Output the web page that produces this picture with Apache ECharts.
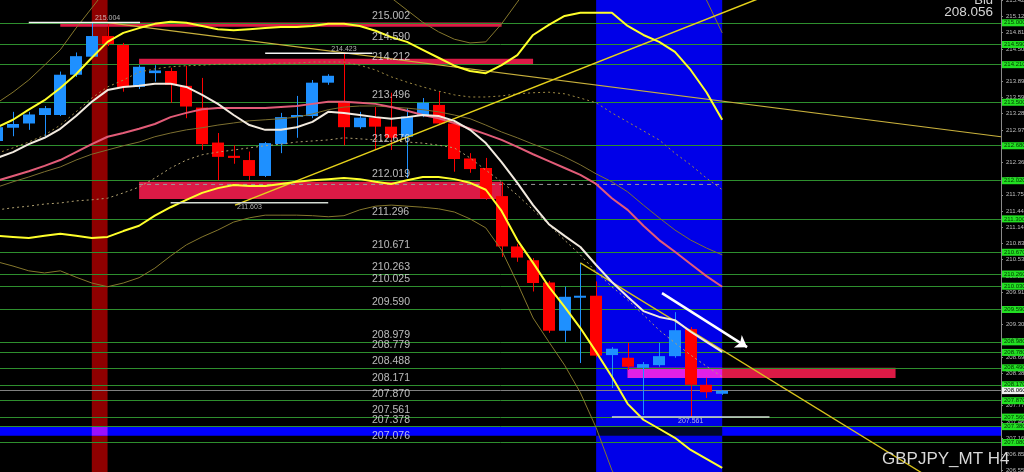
<!DOCTYPE html>
<html><head><meta charset="utf-8">
<script src="https://cdn.jsdelivr.net/npm/echarts@6/dist/echarts.min.js"></script>
<style>html,body{margin:0;padding:0;background:#000;}#c{width:1024px;height:472px;}</style>
</head><body><div id="c"></div>
<script>
// ---------- DATA ----------
const opens  = [212.77,213.02,213.10,213.26,213.26,214.02,214.36,214.75,214.58,213.79,214.05,214.09,213.81,213.40,212.74,212.49,212.41,212.11,212.71,213.23,213.24,213.87,213.52,213.03,213.21,213.04,212.85,213.26,213.45,213.10,212.44,212.26,211.73,210.78,210.52,210.10,209.19,209.82,209.85,208.73,208.68,208.49,208.54,208.71,209.22,208.17,208.00];
const closes = [213.03,213.09,213.27,213.39,214.02,214.37,214.75,214.60,213.79,214.17,214.10,213.83,213.42,212.71,212.47,212.45,212.11,212.73,213.22,213.26,213.87,214.00,213.03,213.21,213.04,212.83,213.23,213.49,213.10,212.43,212.24,211.69,210.78,210.57,210.09,209.19,209.83,209.85,208.72,208.85,208.51,208.56,208.71,209.20,208.17,208.03,208.056];
const lows   = [212.73,212.86,212.98,212.85,213.24,213.98,214.34,214.56,213.70,213.75,213.89,213.49,213.20,212.60,212.03,212.34,212.03,212.09,212.54,212.83,213.20,213.83,212.69,213.00,212.60,212.60,212.07,213.22,213.07,212.19,212.17,211.66,210.58,210.49,209.93,209.15,208.98,208.58,208.69,208.11,208.45,207.60,208.51,208.68,207.561,207.92,207.98];
const highs  = [213.07,213.32,213.32,213.43,214.08,214.44,215.004,214.98,214.62,214.20,214.20,214.15,214.19,213.96,212.92,212.69,212.57,212.75,213.30,213.62,213.92,214.03,214.423,213.32,213.41,213.68,213.39,213.58,213.70,213.17,212.54,212.45,212.00,210.83,210.56,210.13,210.02,210.47,210.12,208.88,208.96,208.60,208.96,209.54,209.26,208.30,208.07];

const maFast   = [212.45,212.56,212.71,212.83,213.00,213.24,213.51,213.73,213.79,213.81,213.85,213.85,213.79,213.64,213.47,213.26,213.07,212.98,212.98,213.03,213.13,213.32,213.30,213.26,213.22,213.19,213.22,213.26,213.24,213.15,212.98,212.73,212.37,211.98,211.56,211.20,210.98,210.77,210.43,210.11,209.83,209.56,209.45,209.39,209.17,208.98,208.79];
const bbMid    = [212.02,212.11,212.20,212.30,212.41,212.56,212.71,212.85,212.92,213.00,213.09,213.22,213.30,213.37,213.39,213.39,213.39,213.39,213.41,213.43,213.47,213.51,213.51,213.49,213.47,213.41,213.34,213.26,213.20,213.11,213.00,212.90,212.79,212.66,212.52,212.39,212.26,212.13,211.96,211.69,211.47,211.17,210.90,210.68,210.45,210.22,210.02];
const bbUp2    = [213.03,213.17,213.36,213.54,213.77,214.03,214.34,214.64,214.81,214.90,214.98,215.02,215.00,214.94,214.88,214.86,214.88,214.90,214.92,214.92,214.94,214.98,214.98,214.94,214.85,214.73,214.64,214.49,214.34,214.19,214.09,214.05,214.20,214.39,214.77,214.96,215.13,215.19,215.19,215.19,214.94,214.77,214.64,214.45,214.11,213.69,213.17];
const bbLow2   = [210.98,210.96,210.94,210.98,211.02,210.98,210.94,210.96,211.07,211.17,211.36,211.52,211.66,211.79,211.88,211.94,211.92,211.92,211.96,212.00,212.03,212.05,212.07,212.05,212.00,211.96,212.03,212.09,212.09,212.05,211.98,211.85,211.45,210.90,210.47,210.02,209.64,209.24,208.79,208.32,207.81,207.51,207.34,207.17,206.94,206.77,206.60];
const bbUp3    = [213.49,213.69,213.92,214.20,214.49,214.90,215.28,215.66,215.90,216.00,215.88,215.81,215.73,215.66,215.62,215.60,215.62,215.64,215.66,215.66,215.66,215.69,215.71,215.68,215.56,215.47,215.24,215.01,214.83,214.69,214.62,214.64,214.98,215.39,215.81,216.18,216.47,216.66,216.75,216.75,216.71,216.47,216.32,216.15,215.90,215.43,214.81];
const bbLow3   = [210.49,210.41,210.32,210.28,210.32,210.20,210.09,210.02,210.09,210.19,210.37,210.60,210.81,210.96,211.09,211.24,211.32,211.37,211.37,211.37,211.36,211.34,211.36,211.47,211.54,211.56,211.54,211.52,211.49,211.43,211.30,211.13,210.71,210.09,209.43,208.98,208.54,208.02,207.36,206.56,206.03,205.69,205.51,205.34,205.15,205.03,204.96];
const maSlow   = [211.90,212.00,212.09,212.19,212.28,212.41,212.52,212.60,212.68,212.75,212.85,212.92,212.98,213.02,213.07,213.11,213.15,213.17,213.19,213.22,213.28,213.36,213.41,213.43,213.43,213.41,213.39,213.36,213.32,213.26,213.19,213.07,212.94,212.83,212.71,212.60,212.47,212.32,212.15,212.00,211.81,211.56,211.32,211.09,210.90,210.75,210.62];
const bbUp1    = [212.54,212.64,212.75,212.88,213.07,213.32,213.58,213.79,213.92,214.07,214.13,214.17,214.19,214.20,214.22,214.22,214.22,214.22,214.24,214.24,214.26,214.26,214.26,214.20,214.11,213.98,213.88,213.79,213.71,213.64,213.60,213.60,213.62,213.66,213.68,213.69,213.66,213.58,213.49,213.30,213.13,212.96,212.79,212.54,212.32,212.07,211.85];
const bbLow1   = [211.47,211.51,211.54,211.58,211.60,211.64,211.66,211.69,211.79,211.90,212.07,212.26,212.41,212.51,212.56,212.60,212.64,212.68,212.71,212.75,212.77,212.79,212.83,212.81,212.79,212.77,212.75,212.73,212.69,212.64,212.45,212.22,212.00,211.75,211.47,211.19,210.90,210.62,210.30,210.02,209.77,209.49,209.20,208.96,208.73,208.52,208.32];

const levels      = [215.002,214.590,214.212,213.496,212.676,212.019,211.296,210.671,210.263,210.025,209.590,208.979,208.779,208.488,208.171,207.870,207.561,207.378,207.076];
const levelLabels = ['215.002','214.590','214.212','213.496','212.676','212.019','211.296','210.671','210.263','210.025','209.590','208.979','208.779','208.488','208.171','207.870','207.561','207.378','207.076'];
const tickValues  = [215.425,215.120,214.815,214.505,214.200,213.895,213.590,213.285,212.975,212.670,212.365,212.055,211.755,211.445,211.140,210.835,210.530,210.225,209.915,209.610,209.305,209.000,208.695,208.385,208.080,207.775,207.468,207.165,206.855,206.550];
const bidPrice = 208.056;

// zones: [startIndex, endIndex, priceTop, priceBottom]
const zoneMaroon = [6, 7];
const zoneBlue   = [38, 46];
const bandBlue   = [207.378, 207.210];
const supplyZones = [[4, 32, 215.004, 214.925],[9, 34, 214.320, 214.212],[9, 32, 212.000, 211.675],[40, 57, 208.490, 208.300]];
// marker lines: [startIndex, endIndex, price, labelIndex, labelText, above]
const markers = [[2, 9.06, 215.004, 7, '215.004', true],[17, 23.8, 214.423, 22, '214.423', true],[11, 21, 211.603, 16, '211.603', false],[39, 49, 207.561, 44, '207.561', false]];
const trendRise  = [[15.09, 211.56],[49.03, 215.54]];
const trendFall  = [[7, 215.004],[63.69, 212.85]];
const trendSteep = [[37, 210.47],[59.8, 206.30]];
const arrowPts   = [[42.18, 209.90],[47.58, 208.88]];
const dashLine   = [[9, 211.95],[46, 211.95]];

// ---------- CHART ----------
const X_MIN = 0.175, X_MAX = 63.69, Y_MIN = 206.524, Y_MAX = 215.430;
const UP = '#1e90ff', DOWN = '#ff0000';
const idx = opens.map((_, i) => i);
const ser = arr => idx.map(i => [i, arr[i]]);
const FONT = '"Liberation Sans", Arial, sans-serif';

function rectRender(params, api) {
  const p0 = api.coord([api.value(0), api.value(2)]);
  const p1 = api.coord([api.value(1), api.value(3)]);
  return {type: 'rect', shape: {x: p0[0], y: p0[1], width: p1[0] - p0[0], height: p1[1] - p0[1]},
          style: {fill: api.visual('color')}};
}
function candleRender(params, api) {
  const i = api.value(0), o = api.value(1), c = api.value(2), l = api.value(3), h = api.value(4);
  const po = api.coord([i, o]), pc = api.coord([i, c]), pl = api.coord([i, l]), ph = api.coord([i, h]);
  const w = api.size([1, 0])[0] * 0.76;
  const color = c >= o ? UP : DOWN;
  const top = Math.min(po[1], pc[1]);
  const hh = Math.max(Math.abs(po[1] - pc[1]), 2);
  const xc = Math.round(po[0]) + 0.5;
  return {type: 'group', children: [
    {type: 'line', shape: {x1: xc, y1: ph[1], x2: xc, y2: pl[1]}, style: {stroke: color, lineWidth: 1}},
    {type: 'rect', shape: {x: Math.round(po[0] - w / 2), y: top, width: Math.round(w), height: hh}, style: {fill: color}}
  ]};
}

const zoneData = [
  {value: [zoneBlue[0], zoneBlue[1], Y_MAX, Y_MIN], itemStyle: {color: '#0000e8'}},
  {value: [zoneMaroon[0], zoneMaroon[1], Y_MAX, Y_MIN], itemStyle: {color: '#8e0000'}}
];
const bandData = [
  {value: [X_MIN, X_MAX, bandBlue[0], bandBlue[1]], itemStyle: {color: '#0000ff'}},
  {value: [zoneBlue[0], zoneBlue[1], bandBlue[0], bandBlue[1]], itemStyle: {color: '#00082a'}},
  {value: [zoneMaroon[0], zoneMaroon[1], bandBlue[0], bandBlue[1]], itemStyle: {color: '#9a10ff'}}
];
const rectData = supplyZones.map(z => ({value: z, itemStyle: {color: '#dc1a46'}}));
rectData.push({value: [Math.max(supplyZones[3][0], zoneBlue[0]), zoneBlue[1], supplyZones[3][2], supplyZones[3][3]], itemStyle: {color: '#e020e6'}});

function lineSeries(data, color, width, type, z) {
  return {type: 'line', data: data, showSymbol: false, symbol: 'none', silent: true, z: z || 6,
          lineStyle: {color: color, width: width, type: type || 'solid'}, animation: false};
}

const series = [
  {type: 'custom', renderItem: rectRender, data: zoneData, encode: {x: [0, 1], y: [2, 3]}, z: 1, clip: true, silent: true},
  {type: 'line', data: [], z: 3, silent: true,
   markLine: {symbol: 'none', silent: true, animation: false,
     lineStyle: {color: '#2e8f2e', width: 1, type: 'solid'},
     label: {show: true, position: 'end', distance: 1, fontSize: 6, fontFamily: FONT, color: '#003300',
             backgroundColor: '#22e022', padding: [1, 2, 0, 2], formatter: p => p.value.toFixed(3)},
     data: levels.map(v => ({yAxis: v})).concat([{yAxis: bidPrice, lineStyle: {color: '#808080'},
             label: {backgroundColor: '#f0f0f0', color: '#000'}}])}},
  {type: 'custom', renderItem: rectRender, data: bandData, encode: {x: [0, 1], y: [2, 3]}, z: 4, clip: true, silent: true},
  {type: 'custom', renderItem: rectRender, data: rectData, encode: {x: [0, 1], y: [2, 3]}, z: 4, clip: true, silent: true},
  {type: 'scatter', symbolSize: 0, z: 9, silent: true, data: levels.map(v => [23.78, v]),
   label: {show: true, position: 'right', distance: 0, offset: [0, -7], color: '#e6e6e6', fontSize: 10.5, fontFamily: FONT,
           formatter: p => levelLabels[p.dataIndex]}},
  lineSeries(dashLine, '#9a9a9a', 1, [4, 4], 4),
  {type: 'custom', renderItem: candleRender, data: idx.map(i => [i, opens[i], closes[i], lows[i], highs[i]]),
   encode: {x: 0, y: [1, 2, 3, 4]}, z: 5, clip: true, silent: true},
  lineSeries(ser(bbUp3), '#85772c', 1, 'solid', 6),
  lineSeries(ser(bbLow3), '#85772c', 1, 'solid', 6),
  lineSeries(ser(maSlow), '#7d7030', 1, 'solid', 6),
  lineSeries(ser(bbUp1), '#a08c44', 1, [2, 3], 6),
  lineSeries(ser(bbLow1), '#b0a070', 1, [2, 3], 6),
  lineSeries(ser(bbMid), '#e25c78', 2, 'solid', 7),
  lineSeries(trendFall, '#c9b13c', 1.2, 'solid', 7),
  lineSeries(trendRise, '#e6d21a', 1.5, 'solid', 7),
  lineSeries(trendSteep, '#d8c21c', 1.3, 'solid', 7),
  lineSeries(ser(bbUp2), '#ffff2a', 2, 'solid', 8),
  lineSeries(ser(bbLow2), '#ffff2a', 2, 'solid', 8),
  lineSeries(ser(maFast), '#f2eadf', 2, 'solid', 8)
];
markers.forEach(m => {
  series.push(lineSeries([[m[0], m[2]], [m[1], m[2]]], m[5] ? '#f4f4f4' : '#d4dcd4', 1.5, 'solid', 8));
  series.push({type: 'scatter', symbolSize: 0, z: 9, silent: true, data: [[m[3], m[2]]],
    label: {show: true, position: m[5] ? 'top' : 'bottom', distance: 1, color: '#dddddd', fontSize: 7, fontFamily: FONT,
            formatter: () => m[4]}});
});
series.push({type: 'line', data: [], z: 9, silent: true,
  markLine: {symbol: ['none', 'arrow'], symbolSize: 11, silent: true, animation: false,
    lineStyle: {color: '#ffffff', width: 2.5, type: 'solid'}, label: {show: false},
    data: [[{coord: arrowPts[0]}, {coord: arrowPts[1]}]]}});

const chart = echarts.init(document.getElementById('c'), null, {renderer: 'canvas'});
chart.setOption({
  backgroundColor: '#000000',
  animation: false,
  grid: {left: 0, right: 23, top: 0, bottom: 0, containLabel: false, outerBoundsMode: 'none'},
  xAxis: {type: 'value', min: X_MIN, max: X_MAX, show: false},
  yAxis: {type: 'value', position: 'right', min: Y_MIN, max: Y_MAX, scale: true,
    axisLine: {show: true, lineStyle: {color: '#8a8a8a'}},
    axisTick: {show: true, length: 2, lineStyle: {color: '#8a8a8a'}, customValues: tickValues},
    axisLabel: {color: '#bdbdbd', fontSize: 6, fontFamily: FONT, margin: 5, customValues: tickValues,
                formatter: v => v.toFixed(3)},
    splitLine: {show: false}},
  graphic: [
    {type: 'text', right: 31, top: -6, style: {text: 'Bid', fill: '#d0d0d0', font: '13px ' + FONT}, z: 20},
    {type: 'text', right: 31, top: 5, style: {text: '208.056', fill: '#d6d6d6', font: '13.5px ' + FONT}, z: 20},
    {type: 'text', left: 882, top: 451, style: {text: 'GBPJPY_MT H4', fill: '#d8d8d8', font: '17px ' + FONT}, z: 20}
  ],
  series: series
});
</script></body></html>
